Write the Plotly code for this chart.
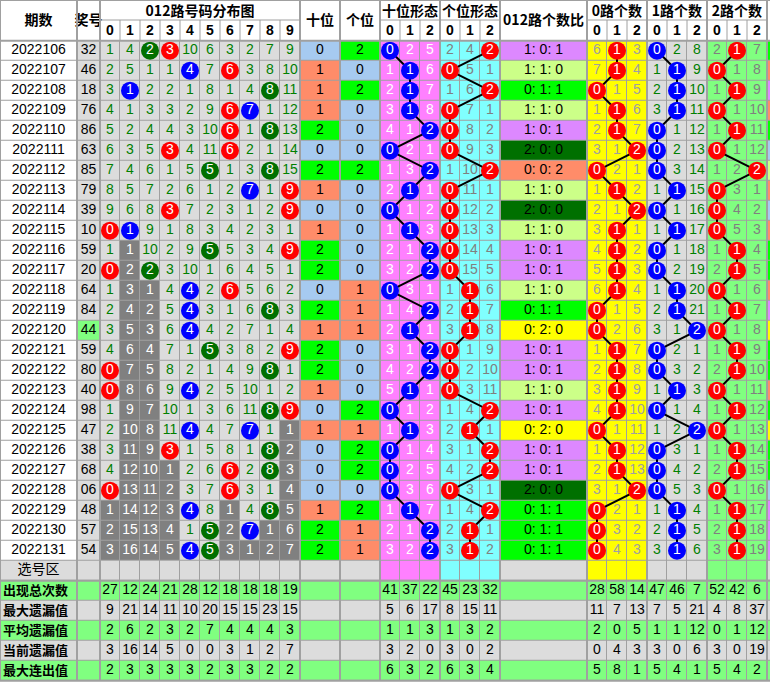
import plotly.graph_objects as go

# ---------------- data ----------------
periods = ['2022106', '2022107', '2022108', '2022109', '2022110', '2022111', '2022112',
           '2022113', '2022114', '2022115', '2022116', '2022117', '2022118', '2022119',
           '2022120', '2022121', '2022122', '2022123', '2022124', '2022125', '2022126',
           '2022127', '2022128', '2022129', '2022130', '2022131']
draws = ['32', '46', '18', '76', '86', '63', '85', '79', '39', '10', '59', '20', '64',
         '84', '44', '59', '80', '40', '98', '47', '38', '68', '06', '48', '57', '54']

# 012路号码分布图: omission per digit 0-9 (0 = drawn this period)
dist_grid = [
    [1, 4, 0, 0, 10, 6, 3, 2, 7, 9],
    [2, 5, 1, 1, 0, 7, 0, 3, 8, 10],
    [3, 0, 2, 2, 1, 8, 1, 4, 0, 11],
    [4, 1, 3, 3, 2, 9, 0, 0, 1, 12],
    [5, 2, 4, 4, 3, 10, 0, 1, 0, 13],
    [6, 3, 5, 0, 4, 11, 0, 2, 1, 14],
    [7, 4, 6, 1, 5, 0, 1, 3, 0, 15],
    [8, 5, 7, 2, 6, 1, 2, 0, 1, 0],
    [9, 6, 8, 0, 7, 2, 3, 1, 2, 0],
    [0, 0, 9, 1, 8, 3, 4, 2, 3, 1],
    [1, 1, 10, 2, 9, 0, 5, 3, 4, 0],
    [0, 2, 0, 3, 10, 1, 6, 4, 5, 1],
    [1, 3, 1, 4, 0, 2, 0, 5, 6, 2],
    [2, 4, 2, 5, 0, 3, 1, 6, 0, 3],
    [3, 5, 3, 6, 0, 4, 2, 7, 1, 4],
    [4, 6, 4, 7, 1, 0, 3, 8, 2, 0],
    [0, 7, 5, 8, 2, 1, 4, 9, 0, 1],
    [0, 8, 6, 9, 0, 2, 5, 10, 1, 2],
    [1, 9, 7, 10, 1, 3, 6, 11, 0, 0],
    [2, 10, 8, 11, 0, 4, 7, 0, 1, 1],
    [3, 11, 9, 0, 1, 5, 8, 1, 0, 2],
    [4, 12, 10, 1, 2, 6, 0, 2, 0, 3],
    [0, 13, 11, 2, 3, 7, 0, 3, 1, 4],
    [1, 14, 12, 3, 0, 8, 1, 4, 0, 5],
    [2, 15, 13, 4, 1, 0, 2, 0, 1, 6],
    [3, 16, 14, 5, 0, 0, 3, 1, 2, 7],
]
# first row index of the current (unbroken) omission streak per digit column, None = none
dist_tail_from = [23, 10, 12, 21, None, None, 23, 25, 24, 19]

tens_route = [0, 1, 1, 1, 2, 0, 2, 1, 0, 1, 2, 2, 0, 2, 1, 2, 2, 1, 0, 1, 0, 0, 0, 1, 2, 2]
units_route = [2, 0, 2, 0, 0, 0, 2, 0, 0, 0, 0, 0, 1, 1, 1, 0, 0, 0, 2, 1, 2, 2, 0, 2, 1, 1]

tens_form = [[0, 2, 5], [1, 0, 6], [2, 0, 7], [3, 0, 8], [4, 1, 0], [0, 2, 1], [1, 3, 0],
             [2, 0, 1], [0, 1, 2], [1, 0, 3], [2, 1, 0], [3, 2, 0], [0, 3, 1], [1, 4, 0],
             [2, 0, 1], [3, 1, 0], [4, 2, 0], [5, 0, 1], [0, 1, 2], [1, 0, 3], [0, 1, 4],
             [0, 2, 5], [0, 3, 6], [1, 0, 7], [2, 1, 0], [3, 2, 0]]
units_form = [[2, 4, 0], [0, 5, 1], [1, 6, 0], [0, 7, 1], [0, 8, 2], [0, 9, 3], [1, 10, 0],
              [0, 11, 1], [0, 12, 2], [0, 13, 3], [0, 14, 4], [0, 15, 5], [1, 0, 6], [2, 0, 7],
              [3, 0, 8], [0, 1, 9], [0, 2, 10], [0, 3, 11], [1, 4, 0], [2, 0, 1], [3, 1, 0],
              [4, 2, 0], [0, 3, 1], [1, 4, 0], [2, 0, 1], [3, 0, 2]]

ratios = ['1:0:1', '1:1:0', '0:1:1', '1:1:0', '1:0:1', '2:0:0', '0:0:2', '1:1:0', '2:0:0',
          '1:1:0', '1:0:1', '1:0:1', '1:1:0', '0:1:1', '0:2:0', '1:0:1', '1:0:1', '1:1:0',
          '1:0:1', '0:2:0', '1:0:1', '1:0:1', '2:0:0', '0:1:1', '0:1:1', '0:1:1']

route0_count = [[6, 0, 3], [7, 0, 4], [0, 1, 5], [1, 0, 6], [2, 0, 7], [3, 1, 0], [0, 2, 1],
                [1, 0, 2], [2, 1, 0], [3, 0, 1], [4, 0, 2], [5, 0, 3], [6, 0, 4], [0, 1, 5],
                [0, 2, 6], [1, 0, 7], [2, 0, 8], [3, 0, 9], [4, 0, 10], [0, 1, 11], [1, 0, 12],
                [2, 0, 13], [3, 1, 0], [0, 2, 1], [0, 3, 2], [0, 4, 3]]
route1_count = [[0, 2, 8], [1, 0, 9], [2, 0, 10], [3, 0, 11], [0, 1, 12], [0, 2, 13], [0, 3, 14],
                [1, 0, 15], [0, 1, 16], [1, 0, 17], [0, 1, 18], [0, 2, 19], [1, 0, 20], [2, 0, 21],
                [3, 1, 0], [0, 2, 1], [0, 3, 2], [1, 0, 3], [0, 1, 4], [1, 2, 0], [0, 3, 1],
                [0, 4, 2], [0, 5, 3], [1, 0, 4], [2, 0, 5], [3, 0, 6]]
route2_count = [[2, 0, 7], [0, 1, 8], [1, 0, 9], [0, 1, 10], [1, 0, 11], [0, 1, 12], [1, 2, 0],
                [0, 3, 1], [0, 4, 2], [0, 5, 3], [1, 0, 4], [2, 0, 5], [0, 1, 6], [1, 0, 7],
                [0, 1, 8], [1, 0, 9], [2, 0, 10], [0, 1, 11], [1, 0, 12], [0, 1, 13], [1, 0, 14],
                [2, 0, 15], [0, 1, 16], [1, 0, 17], [2, 0, 18], [3, 0, 19]]

# cut-off column at the right edge (colour category per period)
edge_col = ['g', 's', 'p', 's', 'g', 'b', 'l', 's', 'b', 's', 'g', 'g', 's', 'p', 'y', 'g',
            'g', 's', 'g', 'y', 'g', 'g', 'b', 'p', 'p', 'p']

stat_labels = ['出现总次数', '最大遗漏值', '平均遗漏值', '当前遗漏值', '最大连出值']
dist_stats = [[27, 12, 24, 21, 28, 12, 18, 18, 18, 19],
              [9, 21, 14, 11, 10, 20, 15, 15, 23, 15],
              [2, 6, 2, 3, 2, 7, 4, 4, 4, 3],
              [3, 16, 14, 5, 0, 0, 3, 1, 2, 7],
              [2, 3, 3, 3, 3, 2, 3, 3, 2, 2]]
tens_form_stats = [[41, 37, 22], [5, 6, 17], [1, 1, 3], [3, 2, 0], [6, 3, 2]]
units_form_stats = [[45, 23, 32], [8, 15, 11], [1, 3, 2], [3, 0, 2], [6, 3, 4]]
route0_stats = [[28, 58, 14], [11, 7, 13], [2, 0, 5], [0, 4, 3], [5, 8, 1]]
route1_stats = [[47, 46, 7], [7, 5, 21], [1, 1, 12], [3, 0, 6], [5, 4, 1]]
route2_stats = [[52, 42, 6], [4, 8, 37], [0, 1, 12], [3, 0, 19], [5, 4, 2]]

# ---------------- style / layout ----------------
GRID = '#A0A0A0'
WHITE = '#FFFFFF'
GRAY = '#DCDCDC'
DARK = '#808080'
PINK = '#FF80FF'
CYAN = '#80FFFF'
YELLOW = '#FFFF00'
LGREEN = '#80FF80'
ROUTE_BG = {0: '#A6CAF0', 1: '#FF8C69', 2: '#00FF00'}
RATIO_BG = {'1:0:1': '#DD88FF', '1:1:0': '#CCFF88', '0:1:1': '#00FF00',
            '2:0:0': '#007000', '0:0:2': '#FF8C69', '0:2:0': '#FFFF00'}
EDGE_BG = {'g': '#00FF00', 's': '#FF8C69', 'p': '#DD88FF', 'b': '#A6CAF0',
           'l': '#CCFF88', 'y': '#FFFF00'}
BALL = {0: '#FF0000', 1: '#0000FF', 2: '#007000'}
STAT_BG = [LGREEN, GRAY, LGREEN, GRAY, LGREEN]

NUM_FONT = 'Liberation Sans, Arial, sans-serif'
NUM_SIZE = 14
CJK_FONT = 'Noto Sans CJK SC, sans-serif'

col_widths = [77, 23] + [20] * 10 + [40, 40] + [20] * 6 + [87] + [20] * 9 + [23]
X = [0]
for w in col_widths:
    X.append(X[-1] + w)
C_DIST, C_TENS, C_UNITS, C_TF, C_UF, C_RATIO, C_R0, C_R1, C_R2, C_EDGE = 2, 12, 13, 14, 17, 20, 21, 24, 27, 30

Y0 = 40.7
ROW_H = 20
N = len(periods)
N_ROWS = N + 1 + len(stat_labels)
Y = [Y0 + ROW_H * i for i in range(N_ROWS + 1)]


def cx(c):
    return (X[c] + X[c + 1]) / 2


def cy(r):
    return Y0 + ROW_H * r + ROW_H / 2


# ---------------- cell backgrounds (heatmap) ----------------
palette = []


def idx(color):
    if color not in palette:
        palette.append(color)
    return palette.index(color)


z = []
for r in range(N_ROWS):
    row = []
    for c in range(len(col_widths)):
        if r < N:
            if c == 0:
                col = WHITE
            elif c == 1:
                col = LGREEN if draws[r][0] == draws[r][1] else GRAY
            elif C_DIST <= c < C_DIST + 10:
                k = c - C_DIST
                t = dist_tail_from[k]
                col = DARK if (t is not None and r >= t) else GRAY
            elif c == C_TENS:
                col = ROUTE_BG[tens_route[r]]
            elif c == C_UNITS:
                col = ROUTE_BG[units_route[r]]
            elif C_TF <= c < C_TF + 3:
                col = PINK
            elif C_UF <= c < C_UF + 3:
                col = CYAN
            elif c == C_RATIO:
                col = RATIO_BG[ratios[r]]
            elif C_R0 <= c < C_R0 + 3:
                col = YELLOW
            elif C_R1 <= c < C_R1 + 3:
                col = GRAY
            elif C_R2 <= c < C_R2 + 3:
                col = LGREEN
            else:
                col = EDGE_BG[edge_col[r]]
        elif r == N:
            if C_TF <= c < C_TF + 3:
                col = PINK
            elif C_UF <= c < C_UF + 3:
                col = CYAN
            elif C_R0 <= c < C_R0 + 3:
                col = YELLOW
            elif C_R2 <= c < C_R2 + 3:
                col = LGREEN
            else:
                col = GRAY
        else:
            col = STAT_BG[r - N - 1]
        row.append(idx(col))
    z.append(row)

n_pal = len(palette)
colorscale = []
for i, c in enumerate(palette):
    colorscale.append([i / n_pal, c])
    colorscale.append([(i + 1) / n_pal, c])

fig = go.Figure()
fig.add_trace(go.Heatmap(x=X, y=Y, z=z, colorscale=colorscale, zmin=-0.5, zmax=n_pal - 0.5,
                         showscale=False, xgap=1, ygap=1, hoverinfo='skip'))


def add_text(xs, ys, texts, color='black', size=NUM_SIZE, family=NUM_FONT, weight='normal',
             pos='middle center'):
    fig.add_trace(go.Scatter(x=xs, y=ys, text=texts, mode='text', textposition=pos,
                             textfont=dict(color=color, size=size, family=family, weight=weight),
                             hoverinfo='skip', showlegend=False, cliponaxis=False))


# ---------------- header ----------------
header_span = [('期数', 0, 1), ('奖号', 1, 2), ('十位', C_TENS, C_TENS + 1),
               ('个位', C_UNITS, C_UNITS + 1), ('012路个数比', C_RATIO, C_RATIO + 1)]
header_group = [('012路号码分布图', C_DIST, C_DIST + 10), ('十位形态', C_TF, C_TF + 3),
                ('个位形态', C_UF, C_UF + 3), ('0路个数', C_R0, C_R0 + 3),
                ('1路个数', C_R1, C_R1 + 3), ('2路个数', C_R2, C_R2 + 3)]
hx, hy, ht = [], [], []
for t, a, b in header_span:
    hx.append((X[a] + X[b]) / 2); hy.append(Y0 / 2 + 1.5); ht.append(t)
for t, a, b in header_group:
    hx.append((X[a] + X[b]) / 2); hy.append(12); ht.append(t)
add_text(hx, hy, ht, size=14, family=CJK_FONT, weight='bold')
sx, sy, st = [], [], []
for t, a, b in header_group:
    for k in range(b - a):
        sx.append(cx(a + k)); sy.append(31); st.append(str(k))
add_text(sx, sy, st, size=14, family=NUM_FONT, weight='bold')

shapes = [dict(type='rect', x0=0, x1=770, y0=Y0, y1=Y[-1], fillcolor=GRID,
               line=dict(width=0), layer='below')]
for t, a, b in header_group:
    shapes.append(dict(type='line', x0=X[a], x1=X[b], y0=20, y1=20, line=dict(color=GRID, width=1)))
    for k in range(a + 1, b):
        shapes.append(dict(type='line', x0=X[k], x1=X[k], y0=20, y1=Y0, line=dict(color=GRID, width=1)))
for c in [1, 2, C_TENS, C_UNITS, C_TF, C_UF, C_RATIO, C_R0, C_R1, C_R2, C_EDGE]:
    shapes.append(dict(type='line', x0=X[c], x1=X[c], y0=0, y1=Y[-1], line=dict(color=GRID, width=2)))
for yy in [Y0, Y[N + 1], Y[-1]]:
    shapes.append(dict(type='line', x0=0, x1=770, y0=yy, y1=yy, line=dict(color=GRID, width=2)))
shapes.append(dict(type='line', x0=0, x1=770, y0=0.5, y1=0.5, line=dict(color=GRID, width=1)))
shapes.append(dict(type='line', x0=0.5, x1=0.5, y0=0, y1=Y[-1], line=dict(color=GRID, width=1)))

# ---------------- body texts ----------------
rows = list(range(N))
add_text([cx(0)] * N, [cy(r) for r in rows], periods, size=14)
add_text([cx(1)] * N, [cy(r) for r in rows], draws)
add_text([cx(C_TENS)] * N, [cy(r) for r in rows], [str(v) for v in tens_route])
add_text([cx(C_UNITS)] * N, [cy(r) for r in rows], [str(v) for v in units_route])
add_text([cx(C_RATIO)] * N, [cy(r) for r in rows], [s.replace(':', ': ') for s in ratios])
add_text([cx(0)], [cy(N)], ['选号区'], size=14, family=CJK_FONT)

# distribution grid numbers
gx, gy, gt, wx, wy, wt = [], [], [], [], [], []
bx, by, bt, bc = [], [], [], []
for r in rows:
    for k in range(10):
        v = dist_grid[r][k]
        t = dist_tail_from[k]
        if v == 0:
            bx.append(cx(C_DIST + k)); by.append(cy(r)); bt.append(str(k)); bc.append(BALL[k % 3])
        elif t is not None and r >= t:
            wx.append(cx(C_DIST + k)); wy.append(cy(r)); wt.append(str(v))
        else:
            gx.append(cx(C_DIST + k)); gy.append(cy(r)); gt.append(str(v))
add_text(gx, gy, gt, color='#008000')
add_text(wx, wy, wt, color='white')

# form / count groups
groups = [(tens_form, C_TF, '#0000FF', 'white'),
          (units_form, C_UF, '#FF0000', '#808080'),
          (route0_count, C_R0, '#FF0000', '#A0A0A0'),
          (route1_count, C_R1, '#0000FF', '#008000'),
          (route2_count, C_R2, '#FF0000', '#808080')]
ball_sets = []
for grid, base, ball_col, txt_col in groups:
    lx, ly, lt, tx, ty, tt = [], [], [], [], [], []
    for r in rows:
        for k in range(3):
            v = grid[r][k]
            if v == 0:
                lx.append(cx(base + k)); ly.append(cy(r)); lt.append(str(k))
            else:
                tx.append(cx(base + k)); ty.append(cy(r)); tt.append(str(v))
    add_text(tx, ty, tt, color=txt_col)
    fig.add_trace(go.Scatter(x=lx, y=ly, mode='lines', line=dict(color='black', width=2),
                             hoverinfo='skip', showlegend=False))
    ball_sets.append((lx, ly, lt, [ball_col] * len(lx)))

ball_sets.append((bx, by, bt, bc))
for xs, ys, ts, cs in ball_sets:
    fig.add_trace(go.Scatter(x=xs, y=ys, text=ts, mode='markers+text', textposition='middle center',
                             marker=dict(size=18, color=cs, line=dict(width=0)),
                             textfont=dict(color='white', size=14, family=NUM_FONT),
                             hoverinfo='skip', showlegend=False, cliponaxis=False))

# ---------------- statistics ----------------
add_text([3] * len(stat_labels), [cy(N + 1 + i) + 1 for i in range(len(stat_labels))], stat_labels,
         size=13, family=CJK_FONT, weight='bold', pos='middle right')
stat_blocks = [(dist_stats, C_DIST), (tens_form_stats, C_TF), (units_form_stats, C_UF),
               (route0_stats, C_R0), (route1_stats, C_R1), (route2_stats, C_R2)]
sx, sy, st = [], [], []
for block, base in stat_blocks:
    for i, vals in enumerate(block):
        for k, v in enumerate(vals):
            sx.append(cx(base + k)); sy.append(cy(N + 1 + i)); st.append(str(v))
add_text(sx, sy, st)

fig.update_layout(width=770, height=691, margin=dict(l=0, r=0, t=0, b=0),
                  paper_bgcolor='white', plot_bgcolor='white', showlegend=False,
                  xaxis=dict(range=[0, 770], visible=False, fixedrange=True),
                  yaxis=dict(range=[691, 0], visible=False, fixedrange=True),
                  shapes=shapes)
fig.write_html('out.html', config={'displayModeBar': False, 'staticPlot': True},
               post_script="document.body.style.margin='0px';document.body.style.overflow='hidden';")
